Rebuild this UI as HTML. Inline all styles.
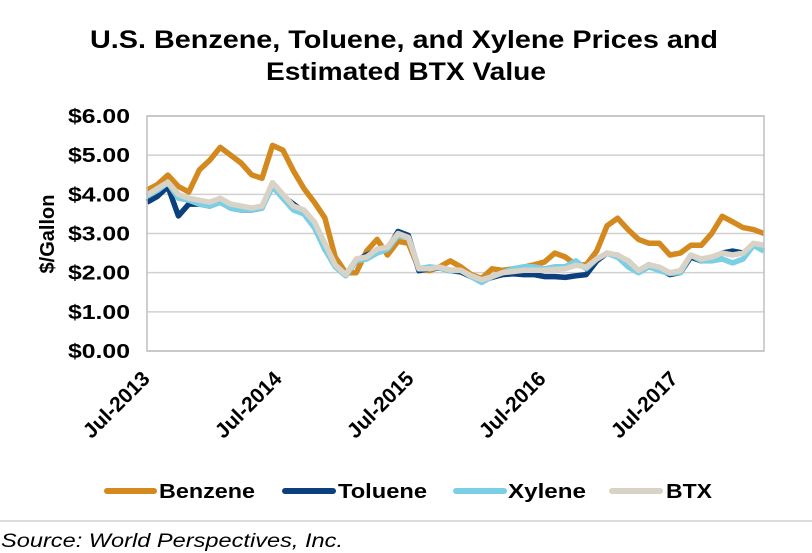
<!DOCTYPE html>
<html><head><meta charset="utf-8"><style>
body{margin:0;background:#fff;}
svg{display:block;font-family:"Liberation Sans",Arial,sans-serif;}
</style></head><body>
<svg id="chart" width="812" height="553" viewBox="0 0 812 553">
<rect x="0" y="0" width="812" height="553" fill="#fff"/>
<text x="90" y="48" textLength="628" lengthAdjust="spacingAndGlyphs" font-size="25" font-weight="bold" fill="#000">U.S. Benzene, Toluene, and Xylene Prices and</text>
<text x="266" y="80" textLength="280" lengthAdjust="spacingAndGlyphs" font-size="25" font-weight="bold" fill="#000">Estimated BTX Value</text>
<text transform="translate(54,234) rotate(-90)" text-anchor="middle" font-size="20" font-weight="bold">$/Gallon</text>
<g id="grid"></g><g id="yticks"></g><g id="xticks"></g><g id="series"></g>
<rect x="147" y="116" width="617" height="235" fill="none" stroke="#bfbfbf" stroke-width="1.5"/>
<g>
<g><line x1="107" y1="491" x2="154" y2="491" stroke="#D4891E" stroke-width="6" stroke-linecap="round"/><text x="159" y="498" textLength="96" lengthAdjust="spacingAndGlyphs" font-size="20" font-weight="bold">Benzene</text></g>
<g><line x1="285" y1="491" x2="333" y2="491" stroke="#0B3F7D" stroke-width="6" stroke-linecap="round"/><text x="338" y="498" textLength="89" lengthAdjust="spacingAndGlyphs" font-size="20" font-weight="bold">Toluene</text></g>
<g><line x1="456" y1="491" x2="504" y2="491" stroke="#7ACFE5" stroke-width="6" stroke-linecap="round"/><text x="508" y="498" textLength="78" lengthAdjust="spacingAndGlyphs" font-size="20" font-weight="bold">Xylene</text></g>
<g><line x1="612" y1="491" x2="660" y2="491" stroke="#D9D3C7" stroke-width="6" stroke-linecap="round"/><text x="666" y="498" textLength="46" lengthAdjust="spacingAndGlyphs" font-size="20" font-weight="bold">BTX</text></g>
</g>
<line x1="0" y1="521" x2="812" y2="521" stroke="#d0d0d0" stroke-width="1.5"/>
<text x="1" y="547" textLength="342" lengthAdjust="spacingAndGlyphs" font-size="19" font-style="italic">Source: World Perspectives, Inc.</text>
</svg>
<script>
const yTicks=[0,1,2,3,4,5,6];
const yTickLabels=["$0.00","$1.00","$2.00","$3.00","$4.00","$5.00","$6.00"];
const xTickIndex=[0,12,24,36,48];
const xTickLabels=["Jul-2013","Jul-2014","Jul-2015","Jul-2016","Jul-2017"];
const benzene=[4.11,4.25,4.49,4.2,4.06,4.62,4.87,5.2,5.0,4.8,4.5,4.41,5.25,5.13,4.6,4.15,3.8,3.4,2.4,2.0,2.0,2.55,2.85,2.45,2.8,2.75,2.1,2.05,2.15,2.3,2.15,1.95,1.85,2.1,2.06,2.1,2.14,2.2,2.27,2.5,2.4,2.2,2.2,2.55,3.2,3.39,3.1,2.85,2.75,2.75,2.45,2.5,2.7,2.7,3.0,3.44,3.3,3.15,3.1,3.0];
const toluene=[3.8,3.95,4.2,3.45,3.75,3.75,3.7,3.8,3.65,3.6,3.6,3.65,4.25,3.95,3.75,3.55,3.2,2.6,2.2,1.95,2.3,2.45,2.55,2.6,3.05,2.95,2.05,2.1,2.12,2.05,2.02,1.9,1.8,1.88,1.95,1.97,1.95,1.95,1.9,1.9,1.88,1.92,1.95,2.3,2.5,2.4,2.3,2.05,2.2,2.1,1.95,2.0,2.4,2.3,2.35,2.5,2.55,2.5,2.7,2.7];
const xylene=[3.95,4.1,4.3,3.9,3.85,3.75,3.7,3.8,3.65,3.6,3.6,3.65,4.2,3.9,3.6,3.5,3.15,2.6,2.15,1.92,2.3,2.35,2.5,2.6,2.95,2.9,2.1,2.15,2.12,2.05,2.06,1.9,1.75,1.9,2.0,2.1,2.15,2.15,2.1,2.15,2.15,2.3,2.1,2.35,2.5,2.4,2.15,2.0,2.15,2.05,1.98,2.0,2.45,2.3,2.3,2.35,2.25,2.35,2.7,2.55];
const btx=[3.98,4.15,4.31,4.0,3.9,3.85,3.8,3.9,3.75,3.7,3.65,3.7,4.3,4.0,3.7,3.6,3.3,2.75,2.2,1.95,2.35,2.4,2.6,2.65,3.0,2.9,2.1,2.1,2.14,2.07,2.06,1.92,1.82,1.9,2.0,2.03,2.06,2.06,2.06,2.08,2.1,2.19,2.14,2.35,2.5,2.45,2.3,2.06,2.2,2.14,2.0,2.05,2.45,2.35,2.4,2.5,2.45,2.5,2.75,2.7];
const NS="http://www.w3.org/2000/svg";
const L=147,R=764,T=116,B=351;
const xTickPx=[0,132,264,396,528];
function xs(i){return L+i*(R-L)/(btx.length-1);}
function ys(v){return B-(v/6)*(B-T);}
function mk(t){return document.createElementNS(NS,t);}
const grid=document.getElementById('grid'),yt=document.getElementById('yticks'),xt=document.getElementById('xticks'),sg=document.getElementById('series');
yTicks.forEach((v,k)=>{
 const g=mk('line');g.setAttribute('x1',L);g.setAttribute('x2',R);g.setAttribute('y1',ys(v));g.setAttribute('y2',ys(v));
 g.setAttribute('stroke','#d0d0d0');g.setAttribute('stroke-width','1.5');
 
 
 grid.appendChild(g);
 const t=mk('text');t.setAttribute('x',68);t.setAttribute('y',ys(v)+7);
 t.setAttribute('textLength','62');t.setAttribute('lengthAdjust','spacingAndGlyphs');
 t.setAttribute('font-size','20');t.setAttribute('font-weight','bold');t.textContent=yTickLabels[k];
 
 
 yt.appendChild(t);
});
xTickIndex.forEach((m,k)=>{
 const x=L+xTickPx[k]+4;
 const t=mk('text');t.setAttribute('transform','translate('+x+',380) rotate(-45)');t.setAttribute('text-anchor','end');
 t.setAttribute('font-size','21');t.setAttribute('font-weight','bold');t.textContent=xTickLabels[k];
 
 
 xt.appendChild(t);
});
[[benzene,'#D4891E','benzene-line'],[toluene,'#0B3F7D','toluene-line'],[xylene,'#7ACFE5','xylene-line'],[btx,'#D9D3C7','btx-line']].forEach(s=>{
 const p=mk('polyline');
 p.setAttribute('points',s[0].map((v,i)=>xs(i).toFixed(1)+','+ys(v).toFixed(1)).join(' '));
 p.setAttribute('fill','none');p.setAttribute('stroke',s[1]);p.setAttribute('stroke-width','5.5');p.setAttribute('stroke-linejoin','round');
 
 
 sg.appendChild(p);
});
</script>
</body></html>
